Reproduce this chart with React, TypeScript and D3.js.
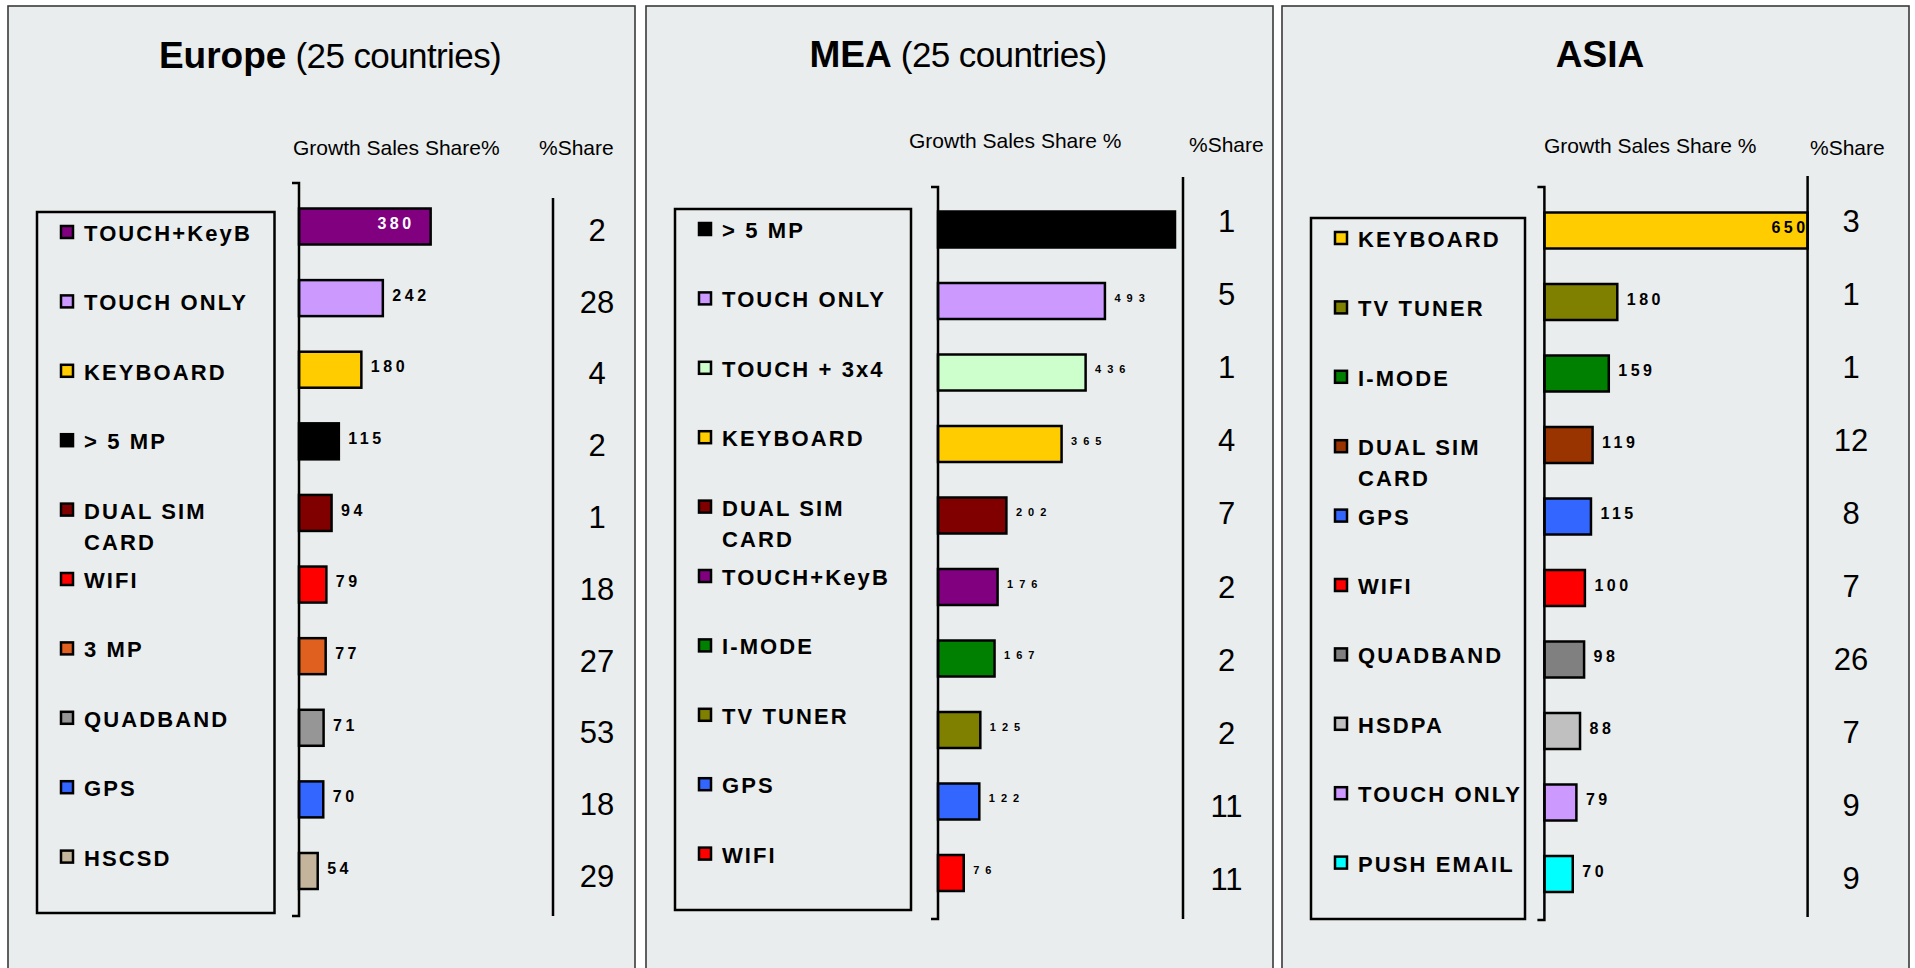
import React from "react";
import * as d3 from "d3";

const W = 1915;
const H = 968;
const FONT = "'Liberation Sans', Arial, sans-serif";

// ---- data ----
const regions = ["Europe", "MEA", "ASIA"];
const regionNotes = ["(25 countries)", "(25 countries)", ""];
const growthHeaders = ["Growth Sales Share%", "Growth Sales Share %", "Growth Sales Share %"];
const shareHeader = "%Share";

const europeFeatures = ["TOUCH+KeyB", "TOUCH ONLY", "KEYBOARD", "> 5 MP", "DUAL SIM CARD", "WIFI", "3 MP", "QUADBAND", "GPS", "HSCSD"];
const europeGrowth = [380, 242, 180, 115, 94, 79, 77, 71, 70, 54];
const europeShare = [2, 28, 4, 2, 1, 18, 27, 53, 18, 29];

const meaFeatures = ["> 5 MP", "TOUCH ONLY", "TOUCH + 3x4", "KEYBOARD", "DUAL SIM CARD", "TOUCH+KeyB", "I-MODE", "TV TUNER", "GPS", "WIFI"];
const meaGrowth = [720, 493, 436, 365, 202, 176, 167, 125, 122, 76]; // first bar runs off the plot, no label shown
const meaShare = [1, 5, 1, 4, 7, 2, 2, 2, 11, 11];

const asiaFeatures = ["KEYBOARD", "TV TUNER", "I-MODE", "DUAL SIM CARD", "GPS", "WIFI", "QUADBAND", "HSDPA", "TOUCH ONLY", "PUSH EMAIL"];
const asiaGrowth = [650, 180, 159, 119, 115, 100, 98, 88, 79, 70];
const asiaShare = [3, 1, 1, 12, 8, 7, 26, 7, 9, 9];

const featureColors: Record<string, string> = {
  "TOUCH+KeyB": "#800080",
  "TOUCH ONLY": "#CC99FF",
  KEYBOARD: "#FFCC00",
  "> 5 MP": "#000000",
  "DUAL SIM CARD": "#800000",
  WIFI: "#FF0000",
  "3 MP": "#E0601F",
  QUADBAND: "#969696",
  GPS: "#3366FF",
  HSCSD: "#C4B49C",
  "TOUCH + 3x4": "#CCFFCC",
  "I-MODE": "#008000",
  "TV TUNER": "#808000",
  HSDPA: "#C0C0C0",
  "PUSH EMAIL": "#00FFFF",
};
const asiaColors: Record<string, string> = { "DUAL SIM CARD": "#993300", QUADBAND: "#808080" };

// ---- layout per panel ----
const layouts = [
  {
    x: 8, titleX: 322, titleY: 68, headX: 285, headY: 155, shareHeadX: 531, shareHeadY: 155,
    axisX: 291, axisTop: 183, axisBottom: 916, plotW: 242.5, xMax: 700,
    barY0: 226.5, barY1: 871, barH: 36,
    legendW: 237.5, legendTop: 212,
    shareLineX: 545, shareTop: 198, shareBottom: 916, shareX: 589, shareY0: 240.7, shareY1: 887,
    labelSize: 16, labelSpacing: 3.5, topLabel: "white",
  },
  {
    x: 646, titleX: 312, titleY: 67, headX: 263, headY: 148, shareHeadX: 543, shareHeadY: 152,
    axisX: 292, axisTop: 187, axisBottom: 919, plotW: 237, xMax: 700,
    barY0: 229.5, barY1: 873, barH: 36,
    legendW: 236, legendTop: 209,
    shareLineX: 537, shareTop: 177, shareBottom: 919, shareX: 580.5, shareY0: 232, shareY1: 890,
    labelSize: 11, labelSpacing: 6, topLabel: "none",
  },
  {
    x: 1282, titleX: 318, titleY: 67, headX: 262, headY: 153, shareHeadX: 528, shareHeadY: 155,
    axisX: 262.4, axisTop: 187, axisBottom: 920, plotW: 263.2, xMax: 650,
    barY0: 230.5, barY1: 874, barH: 36,
    legendW: 214, legendTop: 218,
    shareLineX: 525.6, shareTop: 176, shareBottom: 917, shareX: 569, shareY0: 232, shareY1: 889,
    labelSize: 16, labelSpacing: 3.5, topLabel: "black",
  },
];

const panelData = [
  { features: europeFeatures, growth: europeGrowth, share: europeShare, colors: featureColors },
  { features: meaFeatures, growth: meaGrowth, share: meaShare, colors: featureColors },
  { features: asiaFeatures, growth: asiaGrowth, share: asiaShare, colors: { ...featureColors, ...asiaColors } },
];

const PANEL_W = 627;
const LEGEND_H = 701;

function wrapLabel(s: string): string[] {
  if (s.length <= 11) return [s];
  const i = s.lastIndexOf(" ");
  return [s.slice(0, i), s.slice(i + 1)];
}

const Panel = ({ idx }: { idx: number }) => {
  const L = layouts[idx];
  const D = panelData[idx];
  const n = D.features.length;

  const x = d3.scaleLinear().domain([0, L.xMax]).range([L.axisX, L.axisX + L.plotW]).clamp(true);
  const y = d3.scalePoint<number>().domain(d3.range(n)).range([L.barY0, L.barY1]);
  const shareY = d3.scalePoint<number>().domain(d3.range(n)).range([L.shareY0, L.shareY1]);
  const legendY = d3
    .scalePoint<number>()
    .domain(d3.range(n))
    .range([L.legendTop + 29, L.legendTop + 29 + 69.4 * (n - 1)]);

  const legendX = 29;

  return (
    <g transform={`translate(${L.x},0)`}>
      <rect x={0} y={6} width={PANEL_W} height={1000} fill="#EAEDED" stroke="#3a3a3a" strokeWidth={1.6} />
      <text x={L.titleX} y={L.titleY} textAnchor="middle" fontFamily={FONT} fill="#000">
        <tspan fontWeight="bold" fontSize={37}>{regions[idx]}</tspan>
        {regionNotes[idx] && (
          <tspan fontSize={35} letterSpacing={-0.6}>{" " + regionNotes[idx]}</tspan>
        )}
      </text>
      <text x={L.headX} y={L.headY} fontFamily={FONT} fontSize={21} fill="#000">
        {growthHeaders[idx]}
      </text>
      <text x={L.shareHeadX} y={L.shareHeadY} fontFamily={FONT} fontSize={21} fill="#000">
        {shareHeader}
      </text>

      {/* legend */}
      <rect x={legendX} y={L.legendTop} width={L.legendW} height={LEGEND_H} fill="none" stroke="#000" strokeWidth={2.5} />
      {D.features.map((f, i) => {
        const by = legendY(i)!;
        const lines = wrapLabel(f);
        return (
          <g key={f}>
            <rect x={legendX + 24} y={by - 15} width={12} height={12} fill={D.colors[f]} stroke="#000" strokeWidth={2.5} />
            <text x={legendX + 47} y={by} fontFamily={FONT} fontWeight="bold" fontSize={22} letterSpacing={2.1} fill="#000">
              {lines.map((ln, k) => (
                <tspan key={k} x={legendX + 47} y={by + k * 31}>{ln}</tspan>
              ))}
            </text>
          </g>
        );
      })}

      {/* bars */}
      {D.features.map((f, i) => {
        const cy = y(i)!;
        const x1 = x(D.growth[i]);
        const fs = L.labelSize;
        const base = cy + 0.36 * fs - 3;
        const isTop = i === 0;
        let label: React.ReactNode = null;
        if (D.growth[i] <= L.xMax) {
          if (isTop && L.topLabel === "white") {
            label = (
              <text x={x1 - 16} y={base} textAnchor="end" fontFamily={FONT} fontWeight="bold" fontSize={fs} letterSpacing={L.labelSpacing} fill="#fff">
                {D.growth[i]}
              </text>
            );
          } else if (isTop && L.topLabel === "black") {
            label = (
              <text x={x1 + 1} y={base} textAnchor="end" fontFamily={FONT} fontWeight="bold" fontSize={fs} letterSpacing={L.labelSpacing} fill="#000">
                {D.growth[i]}
              </text>
            );
          } else {
            label = (
              <text x={x1 + 9.5} y={base} fontFamily={FONT} fontWeight="bold" fontSize={fs} letterSpacing={L.labelSpacing} fill="#000">
                {D.growth[i]}
              </text>
            );
          }
        }
        return (
          <g key={f}>
            <rect x={L.axisX} y={cy - L.barH / 2} width={x1 - L.axisX} height={L.barH} fill={D.colors[f]} stroke="#000" strokeWidth={2.5} />
            {label}
          </g>
        );
      })}

      {/* category axis */}
      <path
        d={`M${L.axisX - 7},${L.axisTop}H${L.axisX}V${L.axisBottom}H${L.axisX - 7}`}
        fill="none"
        stroke="#000"
        strokeWidth={2.5}
      />

      {/* share column */}
      <line x1={L.shareLineX} x2={L.shareLineX} y1={L.shareTop} y2={L.shareBottom} stroke="#000" strokeWidth={2.5} />
      {D.share.map((s, i) => (
        <text key={i} x={L.shareX} y={shareY(i)} textAnchor="middle" fontFamily={FONT} fontSize={31} fill="#000">
          {s}
        </text>
      ))}
    </g>
  );
};

export default function App() {
  return (
    <div style={{ position: "absolute", left: 0, top: 0 }}>
      <svg width={W} height={H} style={{ display: "block", background: "#fff" }}>
        {regions.map((r, i) => (
          <Panel key={r} idx={i} />
        ))}
      </svg>
    </div>
  );
}
